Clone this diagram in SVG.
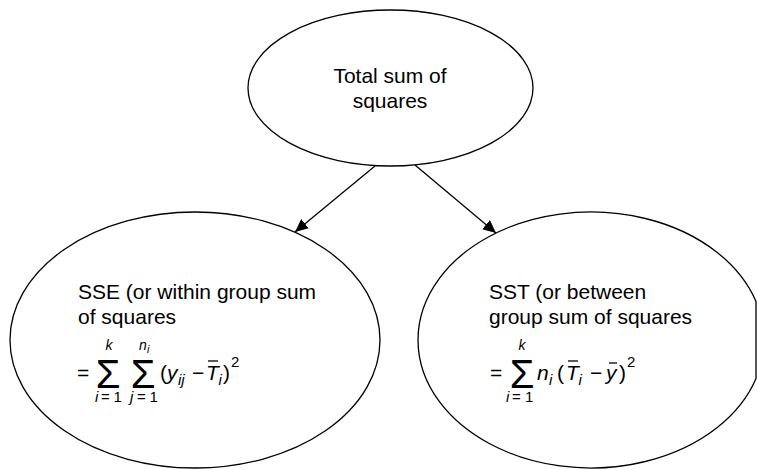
<svg xmlns="http://www.w3.org/2000/svg" width="757" height="470" viewBox="0 0 757 470">
<style>
.shape{fill:#fff;stroke:#000;stroke-width:1.3}
.t{font-family:"Liberation Sans",Arial,sans-serif;font-size:21px;fill:#000}
.c{text-anchor:middle}
.it{font-style:italic}
.sm{font-size:15px}
.xs{font-size:14px}
.sig{font-family:"Liberation Sans",Arial,sans-serif;font-size:40px;fill:#000;text-anchor:middle}
.bar{stroke:#000;stroke-width:1.3}
.conn{stroke:#000;stroke-width:1.3;fill:none}
</style>
<defs>
<marker id="ah" markerUnits="userSpaceOnUse" markerWidth="14" markerHeight="12" refX="13" refY="6" orient="auto">
<path d="M0,0 L13,6 L0,12 Z" fill="#000"/>
</marker>
</defs>
<g id="connectors">
<line class="conn" x1="375" y1="166" x2="295" y2="232" marker-end="url(#ah)"/>
<line class="conn" x1="415" y1="165" x2="496" y2="233" marker-end="url(#ah)"/>
</g>
<g id="total">
<ellipse class="shape" cx="390.5" cy="88" rx="142.5" ry="78"/>
<text class="t c" x="390" y="83">Total sum of</text>
<text class="t c" x="390" y="108">squares</text>
</g>
<g id="sse">
<ellipse class="shape" cx="195" cy="340" rx="185" ry="128"/>
<text class="t" x="78" y="299">SSE (or within group sum</text>
<text class="t" x="78" y="324">of squares</text>
<text class="t" x="77" y="380">=</text>
<text class="sig" x="108" y="388">Σ</text>
<text class="t xs it c" x="109" y="350">k</text>
<text class="t sm" y="402"><tspan class="it" x="95">i</tspan><tspan x="101">=</tspan><tspan x="113.5">1</tspan></text>
<text class="sig" x="143" y="388">Σ</text>
<text class="t xs it" x="139" y="350">n</text>
<text class="t it" x="147" y="353" style="font-size:11px">i</text>
<text class="t sm" y="402"><tspan class="it" x="130">j</tspan><tspan x="137">=</tspan><tspan x="149.5">1</tspan></text>
<text class="t" x="160" y="380">(</text>
<text class="t it" x="167" y="380">y</text>
<text class="t sm it" x="178" y="385">ij</text>
<text class="t" x="192" y="380">−</text>
<text class="t it" x="206" y="380">T</text>
<line class="bar" x1="208" y1="361" x2="218" y2="361"/>
<text class="t sm it" x="218.5" y="385">i</text>
<text class="t" x="223" y="380">)</text>
<text class="t sm" x="231" y="367">2</text>
</g>
<g id="sst">
<path class="shape" d="M756,301.5 A173,128 0 1 0 756,378.5 Z"/>
<text class="t" x="489" y="299">SST (or between</text>
<text class="t" x="489" y="324">group sum of squares</text>
<text class="t" x="490" y="380">=</text>
<text class="sig" x="522" y="388">Σ</text>
<text class="t xs it c" x="522" y="350">k</text>
<text class="t sm" y="402"><tspan class="it" x="506">i</tspan><tspan x="512">=</tspan><tspan x="525">1</tspan></text>
<text class="t it" x="537" y="380">n</text>
<text class="t sm it" x="549" y="385">i</text>
<text class="t" x="557" y="380">(</text>
<text class="t it" x="566" y="380">T</text>
<line class="bar" x1="568" y1="361" x2="578" y2="361"/>
<text class="t sm it" x="578.5" y="385">i</text>
<text class="t" x="590" y="380">−</text>
<text class="t it" x="606" y="380">y</text>
<line class="bar" x1="609" y1="363" x2="617" y2="363"/>
<text class="t" x="619" y="380">)</text>
<text class="t sm" x="627" y="367">2</text>
</g>
</svg>
